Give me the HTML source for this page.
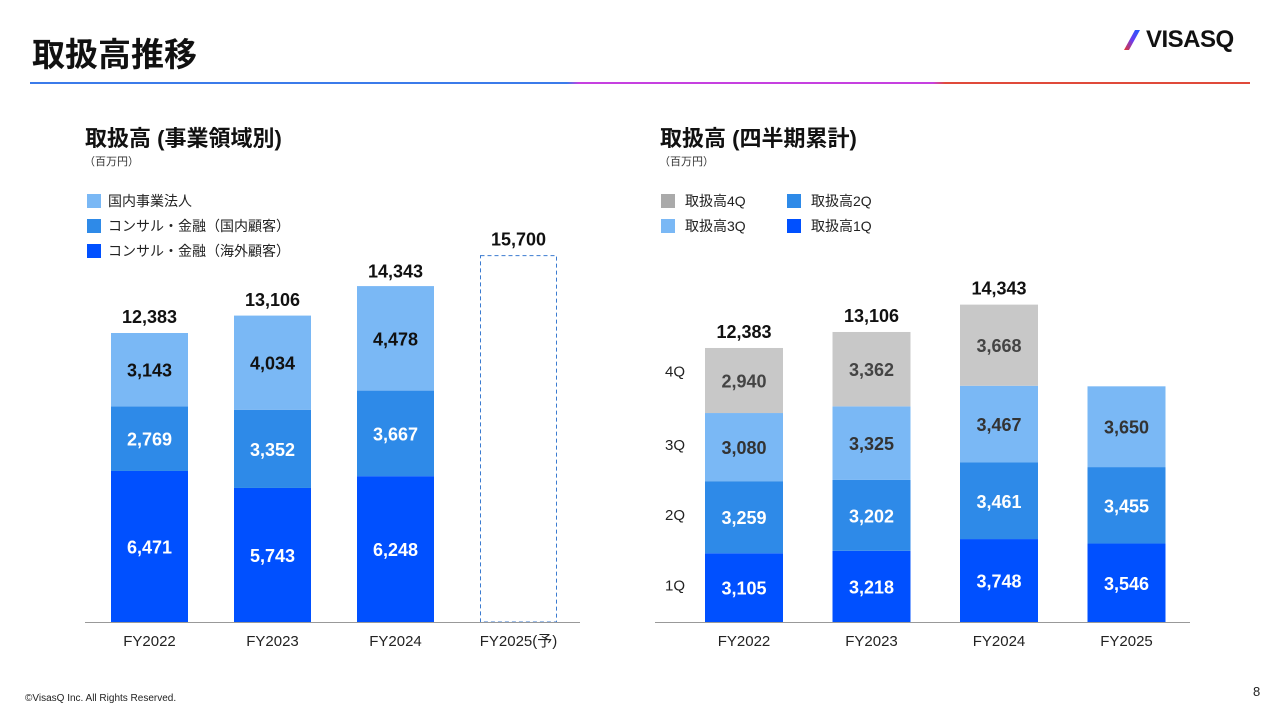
<!DOCTYPE html>
<html><head><meta charset="utf-8">
<style>
body{margin:0;width:1280px;height:720px;background:#fff;font-family:"Liberation Sans","Noto Sans CJK JP",sans-serif;position:relative;overflow:hidden;color:#111}
.abs{position:absolute}
</style></head>
<body>
<div class="abs" style="left:32px;top:28px;font-size:33px;font-weight:bold;letter-spacing:0px">取扱高推移</div>
<div class="abs" style="left:1120px;top:26px;font-size:24px;font-weight:bold;display:flex;align-items:center">
<svg width="24" height="24" viewBox="0 0 24 24"><defs><linearGradient id="lg" x1="1" y1="0" x2="0" y2="1"><stop offset="0" stop-color="#1e5bff"/><stop offset="0.5" stop-color="#6a3cf0"/><stop offset="1" stop-color="#e5352b"/></linearGradient></defs><polygon points="15,2 20,2 9,22 4,22" fill="url(#lg)"/></svg><span style="margin-left:2px;letter-spacing:-0.5px">VISASQ</span></div>
<div class="abs" style="left:30px;top:82px;width:1220px;height:2px;background:linear-gradient(90deg,#3b7bea 0%,#3b7bea 44%,#c640e0 45%,#c640e0 74%,#e04a3a 75%,#e04a3a 100%)"></div>

<div class="abs" style="left:85px;top:121px;font-size:22px;font-weight:bold">取扱高 (事業領域別)</div>
<div class="abs" style="left:84px;top:153px;font-size:11px;color:#333">（百万円）</div>
<div class="abs" style="left:660px;top:121px;font-size:22px;font-weight:bold">取扱高 (四半期累計)</div>
<div class="abs" style="left:659px;top:153px;font-size:11px;color:#333">（百万円）</div>

<svg class="abs" style="left:0;top:0" width="1280" height="720" id="chart" font-family="Liberation Sans, Noto Sans CJK JP, sans-serif"></svg>

<div class="abs" style="left:25px;top:693px;font-size:10px;color:#222">©VisasQ Inc. All Rights Reserved.</div>
<div class="abs" style="left:1253px;top:684px;font-size:13px;color:#222">8</div>

<script>
const leftCats=["FY2022","FY2023","FY2024","FY2025(予)"];
const leftOverseas=[6471,5743,6248];
const leftDomConsult=[2769,3352,3667];
const leftDomCorp=[3143,4034,4478];
const leftTotals=[12383,13106,14343,15700];
const leftLegend=["国内事業法人","コンサル・金融（国内顧客）","コンサル・金融（海外顧客）"];

const rightCats=["FY2022","FY2023","FY2024","FY2025"];
const q1=[3105,3218,3748,3546];
const q2=[3259,3202,3461,3455];
const q3=[3080,3325,3467,3650];
const q4=[2940,3362,3668,null];
const rightTotals=[12383,13106,14343,null];
const rightLegend=["取扱高4Q","取扱高2Q","取扱高3Q","取扱高1Q"];
const qLabels=["1Q","2Q","3Q","4Q"];

const svg=document.getElementById('chart');
const NS="http://www.w3.org/2000/svg";
function mk(tag,attrs,text){const e=document.createElementNS(NS,tag);for(const k in attrs)e.setAttribute(k,attrs[k]);if(text!==undefined)e.textContent=text;svg.appendChild(e);return e;}
const fmt=v=>v.toLocaleString('en-US');
const C1="#0050ff",C2="#2e8ae8",C3="#7ab8f5",C4="#c8c8c8";
const base=622;

// LEFT
const lScale=289/12383;
const lx=i=>149.5+i*123;
const ly=v=>base-v*lScale;
const lw=77;
leftCats.forEach((c,i)=>{
  let t=mk('text',{x:lx(i),y:646,'text-anchor':'middle','font-size':15,fill:'#222'},c);
  
  
  if(i<3){
    let cum=0;
    [[leftOverseas,C1,'#fff'],[leftDomConsult,C2,'#fff'],[leftDomCorp,C3,'#111']].forEach(([arr,col,tc],s)=>{
      const v=arr[i];const y0=ly(cum),y1=ly(cum+v);
      const r=mk('rect',{x:lx(i)-lw/2,y:y1,width:lw,height:y0-y1,fill:col});
      
      
      const lt=mk('text',{x:lx(i),y:(y0+y1)/2+7,'text-anchor':'middle','font-size':18,'font-weight':'bold',fill:tc},fmt(v));
      
      
      cum+=v;
    });
  } else {
    const r=mk('rect',{x:lx(i)-lw/2+0.5,y:ly(leftTotals[i]),width:lw-1,height:base-ly(leftTotals[i]),fill:'none',stroke:'#3b7bd0','stroke-width':1,'stroke-dasharray':'4,3'});
    
    
  }
  const tt=mk('text',{x:lx(i),y:ly(leftTotals[i])-10,'text-anchor':'middle','font-size':18,'font-weight':'bold',fill:'#111'},fmt(leftTotals[i]));
  
  
});
let ax=mk('line',{x1:85,x2:580,y1:base+0.5,y2:base+0.5,stroke:'#999','stroke-width':1});


[C3,C2,C1].forEach((col,k)=>{
  const y=194+k*25;
  const r=mk('rect',{x:87,y:y,width:14,height:14,fill:col});
  
  
  const t=mk('text',{x:108,y:y+12,'font-size':14,fill:'#222'},leftLegend[k]);
  
  
});

// RIGHT
const rScale=274/12383;
const rx=i=>744+i*127.5;
const ry=v=>base-v*rScale;
const rw=78;
rightCats.forEach((c,i)=>{
  const t=mk('text',{x:rx(i),y:646,'text-anchor':'middle','font-size':15,fill:'#222'},c);
  
  
  let cum=0;
  [[q1,C1,'#fff'],[q2,C2,'#fff'],[q3,C3,'#333'],[q4,C4,'#444']].forEach(([arr,col,tc])=>{
    const v=arr[i];if(v==null)return;
    const y0=ry(cum),y1=ry(cum+v);
    const r=mk('rect',{x:rx(i)-rw/2,y:y1,width:rw,height:y0-y1,fill:col});
    
    
    const lt=mk('text',{x:rx(i),y:(y0+y1)/2+7,'text-anchor':'middle','font-size':18,'font-weight':'bold',fill:tc},fmt(v));
    
    
    cum+=v;
  });
  if(rightTotals[i]!=null){
    const tt=mk('text',{x:rx(i),y:ry(rightTotals[i])-10,'text-anchor':'middle','font-size':18,'font-weight':'bold',fill:'#111'},fmt(rightTotals[i]));
    
    
  }
});
let ax2=mk('line',{x1:655,x2:1190,y1:base+0.5,y2:base+0.5,stroke:'#999','stroke-width':1});


let cumq=0;
[q1,q2,q3,q4].forEach((arr,k)=>{
  const y0=ry(cumq),y1=ry(cumq+arr[0]);cumq+=arr[0];
  const t=mk('text',{x:675,y:(y0+y1)/2+3-(k==3?7:0),'text-anchor':'middle','font-size':15,fill:'#222'},qLabels[k]);
  
  
});
[[C4,661,194],[C2,787,194],[C3,661,219],[C1,787,219]].forEach(([col,x,y],k)=>{
  const r=mk('rect',{x:x,y:y,width:14,height:14,fill:col==C4?'#aaa':col});
  
  
  const t=mk('text',{x:x+24,y:y+12,'font-size':14,fill:'#222'},rightLegend[k]);
  
  
});
</script>
</body></html>
